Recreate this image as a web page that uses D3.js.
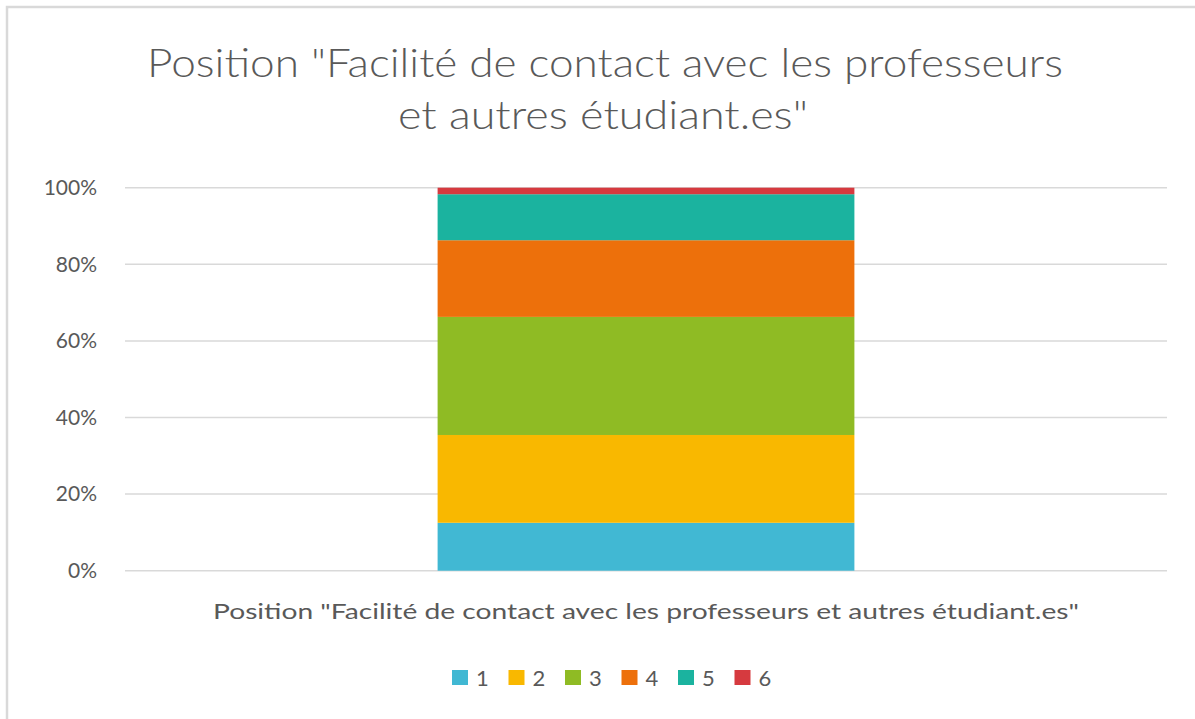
<!DOCTYPE html>
<html>
<head>
<meta charset="utf-8">
<script src="https://cdn.jsdelivr.net/npm/d3@7.9.0/dist/d3.min.js"></script>
<style>
  body { margin: 0; background: #fff; }
  svg text { font-family: Lato, "Open Sans", sans-serif; fill: #595959; }
</style>
</head>
<body>
<svg id="chart" width="1195" height="719"></svg>
<script>
const categories = ['Position "Facilité de contact avec les professeurs et autres étudiant.es"'];
const seriesNames = ['1', '2', '3', '4', '5', '6'];
const seriesValues = [12.5, 22.9, 30.8, 20.0, 12.0, 1.7]; // % share of each answer
const colors = ['#41b8d3', '#f9b800', '#8fbb24', '#ed700b', '#1bb39f', '#d63a3f'];
const yTicks = [0, 20, 40, 60, 80, 100];
const titleLines = ['Position "Facilité de contact avec les professeurs', 'et autres étudiant.es"'];

const svg = d3.select('#chart');

// outer frame (top + left visible)
svg.append('rect')
  .attr('x', 7).attr('y', 7)
  .attr('width', 1200).attr('height', 730)
  .attr('fill', 'none').attr('stroke', '#d9d9d9').attr('stroke-width', 2.5);

const margin = { left: 125, right: 1167, top: 187.7, bottom: 570.7 };

const x = d3.scaleBand().domain(categories).range([margin.left, margin.right]).paddingInner(0.6).paddingOuter(0.3);
const y = d3.scaleLinear().domain([0, 100]).range([margin.bottom, margin.top]);

// title
svg.append('g').selectAll('text')
  .data(titleLines)
  .join('text')
  .attr('x', (d, i) => i === 0 ? 605 : 603)
  .attr('y', (d, i) => 77 + i * 52)
  .attr('text-anchor', 'middle')
  .attr('font-size', 40)
  .attr('font-weight', 300)
  .attr('textLength', (d, i) => i === 0 ? 916 : 410)
  .attr('lengthAdjust', 'spacingAndGlyphs')
  .text(d => d);

// gridlines
svg.append('g').selectAll('line')
  .data(yTicks)
  .join('line')
  .attr('x1', margin.left).attr('x2', margin.right)
  .attr('y1', d => y(d)).attr('y2', d => y(d))
  .attr('stroke', '#d9d9d9').attr('stroke-width', 1.5);

// y axis labels
svg.append('g').selectAll('text')
  .data(yTicks)
  .join('text')
  .attr('x', 97)
  .attr('y', d => y(d))
  .attr('dy', '0.35em')
  .attr('text-anchor', 'end')
  .attr('font-size', 21)
  .text(d => d + '%');

// stacked bar
const row = {};
seriesNames.forEach((s, i) => row[s] = seriesValues[i]);
const stack = d3.stack().keys(seriesNames)([row]);
const total = d3.sum(seriesValues);

svg.append('g').selectAll('rect')
  .data(stack)
  .join('rect')
  .attr('x', x(categories[0]))
  .attr('width', x.bandwidth())
  .attr('y', d => y(d[0][1] / total * 100))
  .attr('height', d => y(d[0][0] / total * 100) - y(d[0][1] / total * 100))
  .attr('fill', (d, i) => colors[i]);

// category label
svg.append('text')
  .attr('x', x(categories[0]) + x.bandwidth() / 2)
  .attr('y', 619)
  .attr('text-anchor', 'middle')
  .attr('font-size', 21)
  .attr('textLength', 866)
  .attr('lengthAdjust', 'spacingAndGlyphs')
  .text(categories[0]);

// legend
const legend = svg.append('g').selectAll('g')
  .data(seriesNames)
  .join('g')
  .attr('transform', (d, i) => `translate(${452 + i * 56.5},670)`);
legend.append('rect')
  .attr('width', 16).attr('height', 15)
  .attr('fill', (d, i) => colors[i]);
legend.append('text')
  .attr('x', 24).attr('y', 8)
  .attr('dy', '0.35em')
  .attr('font-size', 22)
  .text(d => d);
</script>
</body>
</html>
